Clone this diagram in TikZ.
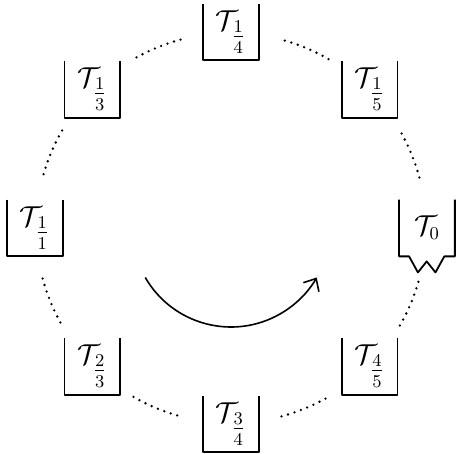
\documentclass[12pt,tikz,border=0pt]{standalone}
\usepackage{amsmath}
\usetikzlibrary{arrows.meta}

\tikzset{
  slot/.style={minimum width=27.5pt, minimum height=28pt, inner sep=0pt,
    font=\fontsize{13.5}{16}\selectfont},
  wall/.style={line width=0.9pt, line join=round},
  gap/.style={line width=1.3pt, line cap=round, dash pattern=on 0pt off 3.4pt},
}
\newcommand{\tsub}[2]{\mathcal{T}_{\textstyle\frac{#1}{#2}}}

\begin{document}
\begin{tikzpicture}

            \useasboundingbox (-115.5pt,-113pt) rectangle (112.5pt,114pt);

            % the eight slots round the ring
            \node[slot] (t0)  at (0:98pt)    {$\mathcal{T}_0$};
            \node[slot] (t15) at (45:98pt)   {$\tsub{1}{5}$};
            \node[slot] (t14) at (90:98pt)   {$\tsub{1}{4}$};
            \node[slot] (t13) at (135:98pt)  {$\tsub{1}{3}$};
            \node[slot] (t11) at (180:98pt)  {$\tsub{1}{1}$};
            \node[slot] (t23) at (225:98pt)  {$\tsub{2}{3}$};
            \node[slot] (t34) at (270:98pt)  {$\tsub{3}{4}$};
            \node[slot] (t45) at (315:98pt)  {$\tsub{4}{5}$};

            % open boxes
            \foreach \n in {t15,t14,t13,t11,t23,t34,t45}
              \draw[wall] (\n.north west) |- (\n.south east) -- (\n.north east);

            % T_0 has a torn bottom
            \draw[wall] (t0.north west) -- (t0.south west) -- ++(5pt,0)
                -- ++(4.4pt,-8pt) -- ++(4.4pt,5.5pt) -- ++(4.4pt,-5.5pt) -- ++(4.4pt,8pt)
                -- (t0.south east) -- (t0.north east);

            % dots between neighbours
            \foreach \a in {0,45,...,315}
              \draw[gap] (\a+15:97.5pt) arc (\a+15:\a+30:97.5pt);

            % turning direction
            \draw[line width=0.8pt, -{Straight Barb[length=5pt,width=9pt]}] (-150:49.5pt) arc (-150:-30:49.5pt);

\end{tikzpicture}
\end{document}
